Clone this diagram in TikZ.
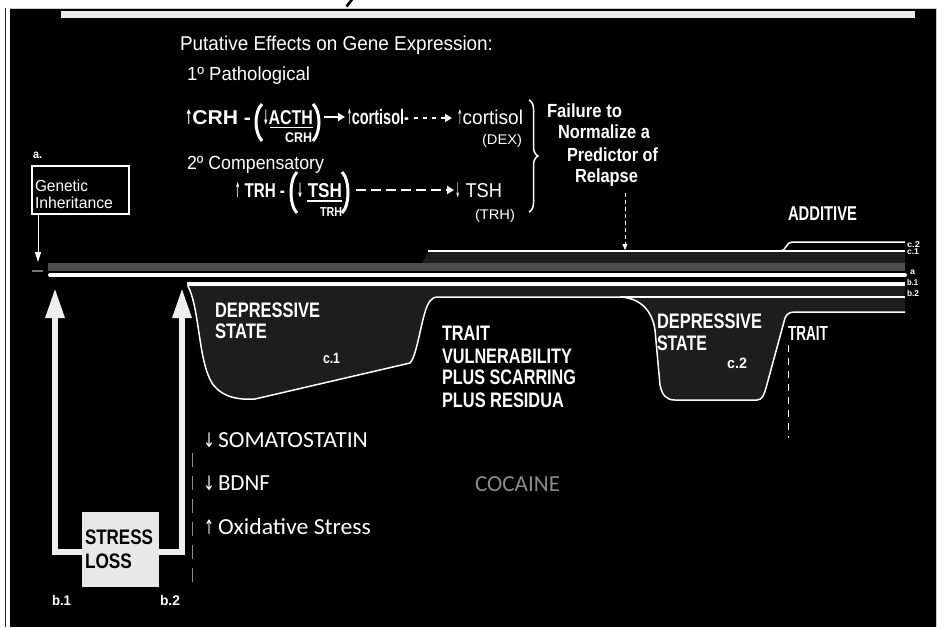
\documentclass[tikz,border=0pt]{standalone}
\usepackage{fontspec}
\setmainfont{Liberation Sans}
\newfontfamily\calib{Carlito}
\newfontfamily\djv{DejaVu Sans}
\usetikzlibrary{arrows.meta,decorations.pathreplacing}
\newcommand\fitx[2]{\resizebox{#1pt}{\height}{#2}}
\newcommand\bua{\resizebox{7pt}{\height}{\djv\bfseries ↑}}
\newcommand\bda{\resizebox{7pt}{\height}{\djv\bfseries ↓}}
\newcommand\rua{\resizebox{6pt}{\height}{\djv ↑}}
\newcommand\rda{\resizebox{6pt}{\height}{\djv ↓}}
\definecolor{band}{HTML}{4D4D4D}
\definecolor{dep}{HTML}{1D1D1D}
\definecolor{barg}{HTML}{E9E9E9}
\definecolor{boxg}{HTML}{E8E8E8}
\definecolor{arrw}{HTML}{EEEEEE}
\definecolor{coc}{HTML}{8A8A8A}
\tikzset{
  txt/.style={inner sep=0pt, outer sep=0pt, anchor=base west, text=white},
  hb/.style={txt, font=\bfseries\fontsize{#1}{#1}\selectfont},
  hr/.style={txt, font=\fontsize{#1}{#1}\selectfont},
  ov/.style={txt, font=\calib\fontsize{23}{23}\selectfont},
  ovar/.style={txt, font=\djv\fontsize{20}{20}\selectfont},
  wline/.style={draw=white, line width=1.5pt},
  bigarrow/.style={draw=arrw, line width=6pt, -{Triangle[width=18pt,length=30pt]}},
  farrow/.style={draw=white, line width=2.5pt, -{Triangle[width=8pt,length=7pt]}},
  rlab/.style={txt, font=\bfseries\fontsize{8.5}{8.5}\selectfont},
}
\def\deppath{(188,286) .. controls (200,310) and (198,360) .. (212,383) .. controls (222,398) and (240,400) .. (255,399) -- (410,363) .. controls (418,355) and (422,310) .. (430,301) .. controls (432,298) and (434,297) .. (440,297) -- (620,297) .. controls (640,298) and (652,310) .. (655,330) -- (660,385) .. controls (662,395) and (666,400) .. (675,400) -- (757,400) .. controls (762,400) and (764,395) .. (766,388) -- (785,318) .. controls (787,314) and (789,312) .. (795,312) -- (905,312)}
\begin{document}
\begin{tikzpicture}[x=1pt,y=-1pt]
\fill[white] (0,0) rectangle (949,627);
\useasboundingbox (0,0) rectangle (949,627);
% frame
\fill[black] (10,8) rectangle (936,627);
\draw[black!85, line width=1pt] (5,8) -- (5,627);
\draw[black!20, line width=0.8pt] (936.4,8) -- (936.4,627);
\draw[black!20, line width=0.6pt] (10,8.2) -- (936,8.2);
% cut-off descender of the title above
\draw[black, line width=2.6pt] (352,-0.5) -- (346.5,6.5);
\fill[barg] (61,11) rectangle (915,18);

% bands
\fill[dep] (422,263) -- (428,252) -- (905,252) -- (905,263) -- cycle;
\draw[wline] (428,251) -- (905,251);
\draw[wline] (781,251) .. controls (786,251) and (786,242) .. (792,242) -- (905,242);
\fill[band] (48,263) rectangle (905,271);
\draw[white, line width=4pt, line cap=round] (50,275) -- (905,275);
\fill[dep] \deppath -- (905,286) -- cycle;
\draw[white, line width=4pt] (187,284) -- (905,284);
\draw[wline] \deppath;
\draw[wline] (620,297) -- (905,297);
\draw[black!55, line width=1.5pt] (32,271) -- (43,271);

% right labels
\node[rlab] (lc2) at (907,247) {\fitx{13}{c.2}};
\node[rlab] (lc1) at (907,254.5) {\fitx{12}{c.1}};
\node[rlab] (la2) at (910,274) {\fitx{5}{a}};
\node[rlab] (lb1r) at (907,285) {\fitx{11}{b.1}};
\node[rlab] (lb2r) at (907,296) {\fitx{12}{b.2}};

% genetic inheritance
\node[draw=white, line width=1.5pt, minimum width=97pt, minimum height=48pt, inner sep=0pt] (gen) at (80.5,190) {};
\node[hb=12] (la) at (33,158) {\fitx{9}{a.}};
\node[hr=16] (gen1) at (35,191) {\fitx{53}{Genetic}};
\node[hr=16] (gen2) at (35,208) {\fitx{78}{Inheritance}};
\coordinate (gtip) at (38,262);
\draw[white, line width=1pt, -{Triangle[width=6pt,length=10pt]}] (gen.south -| gtip) -- (gtip);

% stress loss
\node[fill=boxg, minimum width=77pt, minimum height=75pt, inner sep=0pt] (stress) at (120.5,549.5) {};
\node[hb=21, text=black] (st1) at (85,544) {\fitx{68}{STRESS}};
\node[hb=21, text=black] (st2) at (85,568) {\fitx{47}{LOSS}};
\coordinate (b1top) at (55,288);
\coordinate (b2top) at (182,288);
\draw[bigarrow] ([yshift=-2.5pt]stress.west) -| (b1top);
\draw[bigarrow] ([yshift=-2.5pt]stress.east) -| (b2top);
\node[hb=14] (lb1) at (52,605) {\fitx{19}{b.1}};
\node[hb=14] (lb2) at (160,605) {\fitx{20}{b.2}};
\draw[black!45, line width=0.8pt, dash pattern=on 14pt off 9pt] (192,453) -- (192,587);

% header
\node[hr=20] (put) at (180,50) {\fitx{313}{Putative Effects on Gene Expression:}};
\node[hr=19] (path1) at (187,80) {\fitx{123}{1º Pathological}};
\node[hr=19] (comp) at (187,169) {\fitx{137}{2º Compensatory}};
% row 1
\node[hb=20] (crh1) at (185,124) {\fitx{66}{\bua CRH -}};
\draw[white, line width=3pt] (262,104) .. controls (254,112) and (254,132) .. (262,141);
\node[hb=20] (acth) at (263,124) {\fitx{50}{\bda ACTH}};
\draw[white, line width=1.2pt] (270,127.5) -- (313,127.5);
\node[hb=14] (crhsub) at (285,142) {\fitx{27}{CRH}};
\draw[white, line width=3pt] (313,104) .. controls (321,112) and (321,132) .. (313,141);
\coordinate (a1s) at (324,117);
\coordinate (a1e) at (345,117);
\draw[farrow] (a1s) -- (a1e);
\node[hb=21] (cort1) at (347,124) {\fitx{62}{\bua cortisol-}};
\coordinate (a2s) at (414,118);
\coordinate (a2e) at (452,118);
\draw[farrow, dash pattern=on 4pt off 5pt] (a2s) -- (a2e);
\node[hr=20] (cort2) at (457,124) {\fitx{66}{\rua cortisol}};
\node[hr=14] (dex) at (482,144) {\fitx{40}{(DEX)}};
% row 2
\node[hb=20] (trh1) at (235,197) {\fitx{50}{\bua\ TRH -}};
\draw[white, line width=3pt] (297,172) .. controls (289,180) and (289,205) .. (297,213);
\node[hb=20] (tsh1) at (297,197) {\fitx{45}{\bda\ TSH}};
\draw[white, line width=1.2pt] (307,201) -- (342,201);
\node[hb=13] (trhsub) at (320,216) {\fitx{22}{TRH}};
\draw[white, line width=3pt] (342,172) .. controls (350,180) and (350,205) .. (342,213);
\coordinate (a3s) at (356,190);
\coordinate (a3e) at (454,190);
\draw[farrow, line width=2pt, dash pattern=on 10pt off 5pt] (a3s) -- (a3e);
\node[hr=20] (tsh2) at (455,197) {\fitx{47}{\rda\ TSH}};
\node[hr=14] (trhp) at (475,219) {\fitx{40}{(TRH)}};
% brace and failure text
\draw[white, line width=1.5pt, decorate, decoration={brace, amplitude=9pt}] (529,100) -- (529,212);
\node[hb=19] (fail1) at (547,117) {\fitx{75}{Failure to}};
\node[hb=19] (fail2) at (558,138) {\fitx{92}{Normalize a}};
\node[hb=19] (fail3) at (567,161) {\fitx{91}{Predictor of}};
\node[hb=19] (fail4) at (575,182) {\fitx{63}{Relapse}};
\coordinate (rtip) at (625,250);
\draw[white, line width=0.8pt, dash pattern=on 4pt off 3pt, -{Triangle[width=5pt,length=6pt]}] (fail4.south -| rtip) ++(0,7) -- (rtip);
\node[hb=20] (add) at (788,220) {\fitx{69}{ADDITIVE}};

% state texts
\node[hb=21] (dep1a) at (215,317) {\fitx{105}{DEPRESSIVE}};
\node[hb=21] (dep1b) at (215,338) {\fitx{52}{STATE}};
\node[hb=15] (c1) at (323,363) {\fitx{17}{c.1}};
\node[hb=21] (tr1) at (442,340) {\fitx{48}{TRAIT}};
\node[hb=21] (tr2) at (442,363) {\fitx{130}{VULNERABILITY}};
\node[hb=21] (tr3) at (442,384) {\fitx{134}{PLUS SCARRING}};
\node[hb=21] (tr4) at (442,407) {\fitx{122}{PLUS RESIDUA}};
\node[hb=21] (dep2a) at (657,328) {\fitx{105}{DEPRESSIVE}};
\node[hb=21] (dep2b) at (657,350) {\fitx{50}{STATE}};
\node[hb=15] (c2) at (727,368) {\fitx{20}{c.2}};
\begin{scope}
  \clip (780,326) rectangle (840,345);
  \node[hb=21] (tr5) at (788,340) {\fitx{40}{TRAIT}};
\end{scope}
\draw[white, line width=1pt, dash pattern=on 7pt off 6pt] (788,345) -- (788,438);

% overlay texts
\node[ovar] (somA) at (203,447.5) {\fitx{12}{↓}};
\node[ov] (som) at (218,447.5) {\fitx{150}{SOMATOSTATIN}};
\node[ovar] (bdnfA) at (203,490) {\fitx{12}{↓}};
\node[ov] (bdnf) at (218,490) {\fitx{52}{BDNF}};
\node[ovar] (oxA) at (204,534.5) {\fitx{10}{↑}};
\node[ov] (ox) at (218,534.5) {\fitx{153}{Oxidative Stress}};
\node[ov, text=coc] (coca) at (475,491) {\fitx{85}{COCAINE}};
\end{tikzpicture}
\end{document}
